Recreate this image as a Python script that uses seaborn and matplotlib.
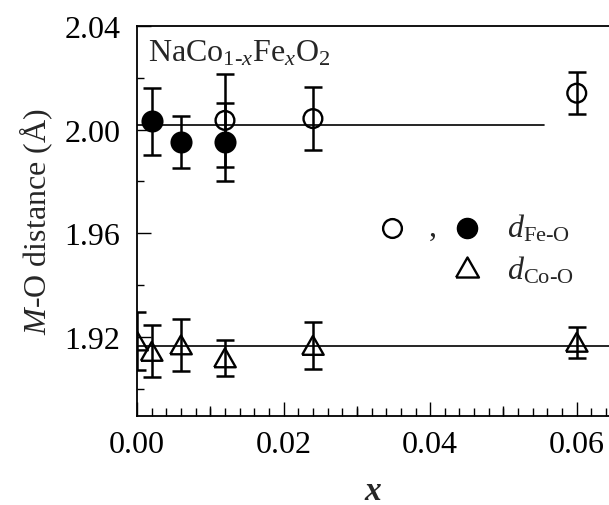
import matplotlib
matplotlib.use("Agg")
import matplotlib.pyplot as plt
import seaborn as sns
import numpy as np
import pandas as pd
from matplotlib.ticker import FixedLocator, MultipleLocator, FormatStrFormatter, NullFormatter

# ---- data ----
fe_open_x = [0.012, 0.024, 0.060]
fe_open_y = [2.0035, 2.0042, 2.0140]
fe_open_err = [0.018, 0.012, 0.008]

fe_fill_x = [0.002, 0.006, 0.012]
fe_fill_y = [2.0031, 1.9953, 1.9953]
fe_fill_err = [0.013, 0.010, 0.015]

co_x = [0.000, 0.002, 0.006, 0.012, 0.024, 0.060]
co_y = [1.9185, 1.9145, 1.9170, 1.9120, 1.9168, 1.9180]
co_err = [0.011, 0.010, 0.010, 0.007, 0.009, 0.006]

fe_fit_x = [0.0, 0.0555]
fe_fit_y = [2.0019, 2.0019]
co_fit_x = [0.0, 0.0644]
co_fit_y = [1.9165, 1.9165]

x_ticks = [0.00, 0.02, 0.04, 0.06]
x_mid_ticks = [0.01, 0.03, 0.05]
y_ticks = [1.92, 1.96, 2.00, 2.04]
y_minor_ticks = [1.90, 1.94, 1.98, 2.02]

# ---- style ----
sns.set_theme(style="ticks")
plt.rcParams["font.family"] = ["Liberation Serif", "DejaVu Serif"]
plt.rcParams["mathtext.fontset"] = "custom"
plt.rcParams["mathtext.rm"] = "Liberation Serif"
plt.rcParams["mathtext.it"] = "Liberation Serif:italic"
plt.rcParams["mathtext.bf"] = "Liberation Serif:bold"

FS = 23
fig = plt.figure(figsize=(6.09, 5.06), dpi=100)
ax = fig.add_axes([0.225, 0.1765, 0.775, 0.7707])

tri = [(-1, -0.875), (1, -0.875), (0, 0.875), (-1, -0.875)]

# fit lines
sns.lineplot(x=fe_fit_x, y=fe_fit_y, ax=ax, color="black", lw=1.2, zorder=1)
sns.lineplot(x=co_fit_x, y=co_fit_y, ax=ax, color="black", lw=1.2, zorder=1)

ebkw = dict(fmt="none", ecolor="black", elinewidth=1.8, capsize=6.5, capthick=1.8, zorder=2)
ax.errorbar(fe_open_x, fe_open_y, yerr=fe_open_err, **ebkw)
ax.errorbar(fe_fill_x, fe_fill_y, yerr=fe_fill_err, **ebkw)
ax.errorbar(co_x, co_y, yerr=co_err, **ebkw)

sns.scatterplot(x=fe_fill_x, y=fe_fill_y, ax=ax, marker="o", s=14.5**2,
                color="black", edgecolor="black", linewidth=1.4, zorder=3)
sns.scatterplot(x=fe_open_x, y=fe_open_y, ax=ax, marker="o", s=13.5**2,
                facecolor="none", edgecolor="black", linewidth=1.7, zorder=4)
sns.scatterplot(x=co_x, y=co_y, ax=ax, marker=tri, s=15.5**2,
                facecolor="none", edgecolor="black", linewidth=1.7, zorder=4)

ax.set_xlim(0, 0.0644)
ax.set_ylim(1.8897, 2.04)

ax.xaxis.set_major_locator(FixedLocator(x_ticks))
ax.xaxis.set_minor_locator(MultipleLocator(0.002))
ax.yaxis.set_major_locator(FixedLocator(y_ticks))
ax.yaxis.set_minor_locator(FixedLocator(y_minor_ticks))
ax.xaxis.set_major_formatter(FormatStrFormatter("%.2f"))
ax.yaxis.set_major_formatter(FormatStrFormatter("%.2f"))

ax.tick_params(which="both", direction="in", width=1.0, color="black",
               top=False, right=False, labelsize=FS, labelcolor="black")
ax.tick_params(which="major", length=9.8)
ax.tick_params(which="minor", length=5)
ax.tick_params(axis="x", which="minor", length=5.5)
ax.tick_params(axis="x", which="major", pad=10)
ax.tick_params(axis="y", which="major", pad=12)

# medium-length ticks at the odd hundredths
sec = ax.secondary_xaxis("bottom")
sec.set_xticks(x_mid_ticks)
sec.xaxis.set_major_formatter(NullFormatter())
sec.xaxis.set_minor_locator(FixedLocator([]))
sec.tick_params(which="major", direction="in", length=7.2, width=1.0, color="black")
for sp in sec.spines.values():
    sp.set_visible(False)

for side in ["left", "bottom", "top"]:
    ax.spines[side].set_visible(True)
    ax.spines[side].set_color("black")
    ax.spines[side].set_linewidth(1.3)
ax.spines["right"].set_visible(False)

ax.set_xlabel("x", fontsize=FS + 1, labelpad=12, fontstyle="italic", fontweight="bold")
ax.set_ylabel(r"$M$-O distance (Å)", fontsize=FS, labelpad=7)

ax.text(0.023, 0.91, r"NaCo$_{1\text{-}x}$Fe$_x$O$_2$", transform=ax.transAxes,
        fontsize=FS, ha="left", va="baseline")

# legend (manual)
ax.plot([0.540], [0.481], transform=ax.transAxes, marker="o", ms=13.5,
        mfc="none", mec="black", mew=1.7, clip_on=False)
ax.text(0.627, 0.465, ",", transform=ax.transAxes, fontsize=FS, ha="center", va="baseline")
ax.plot([0.699], [0.481], transform=ax.transAxes, marker="o", ms=14.5,
        mfc="black", mec="black", clip_on=False)
ax.plot([0.699], [0.381], transform=ax.transAxes, marker=tri, ms=16.5,
        mfc="none", mec="black", mew=1.7, clip_on=False)
ax.text(0.784, 0.460, r"$d_{\mathrm{Fe}\text{-}\mathrm{O}}$", transform=ax.transAxes,
        fontsize=FS, ha="left", va="baseline")
ax.text(0.784, 0.352, r"$d_{\mathrm{Co}\text{-}\mathrm{O}}$", transform=ax.transAxes,
        fontsize=FS, ha="left", va="baseline")

fig.savefig("out.png", dpi=100)
